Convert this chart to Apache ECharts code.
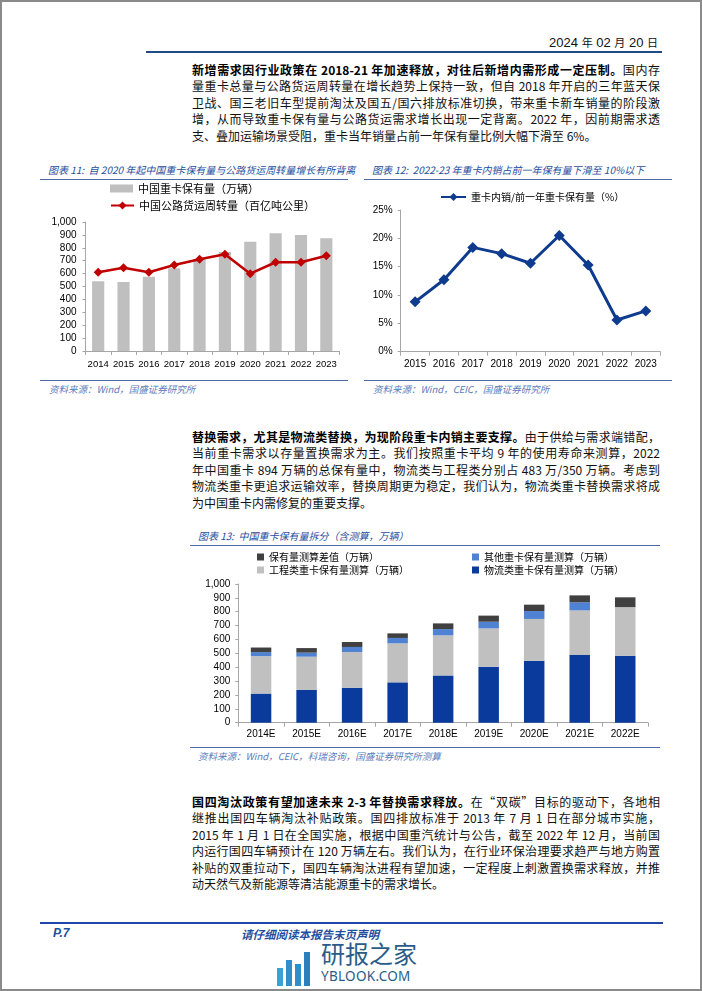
<!DOCTYPE html>
<html><head><meta charset="utf-8">
<script src="https://cdn.jsdelivr.net/npm/echarts@6/dist/echarts.min.js"></script>
<style>
html,body{margin:0;padding:0;background:#fff;}
#page{position:relative;width:702px;height:991px;overflow:hidden;font-family:"Noto Sans CJK SC","Noto Sans",sans-serif;color:#111;}
#frame{position:absolute;left:0;top:0;right:0;bottom:0;border:2px solid #8a8a8a;pointer-events:none;box-sizing:border-box;}
.abs{position:absolute;}
.para{position:absolute;left:192px;width:468px;font-size:12px;line-height:16.6px;}
.para div{text-align:justify;text-align-last:justify;}
.para div.last{text-align-last:left;}
.para b{font-weight:700;color:#000;}
.ctitle{position:absolute;font-size:10px;font-style:italic;color:#1f4e9c;white-space:nowrap;}
.cline{position:absolute;height:0;border-top:1.5px solid #4a6aa3;}
.csrc{position:absolute;font-size:9.5px;font-style:italic;color:#5a7cbc;white-space:nowrap;}
.chart{position:absolute;}
</style></head>
<body><div id="page">
<div class="abs" style="right:44px;top:34px;font-size:13px;font-family:'Liberation Sans',sans-serif;white-space:nowrap;">2024 <span style="font-family:'Noto Sans CJK SC';font-size:11px;">年</span> 02 <span style="font-family:'Noto Sans CJK SC';font-size:11px;">月</span> 20 <span style="font-family:'Noto Sans CJK SC';font-size:11px;">日</span></div>
<div class="abs" style="left:146px;top:51px;width:516px;height:2px;background:#1f4a85;"></div>

<div class="para" style="top:61.7px;">
<div><b>新增需求因行业政策在 2018-21 年加速释放，对往后新增内需形成一定压制。</b>国内存</div>
<div>量重卡总量与公路货运周转量在增长趋势上保持一致，但自 2018 年开启的三年蓝天保</div>
<div>卫战、国三老旧车型提前淘汰及国五/国六排放标准切换，带来重卡新车销量的阶段激</div>
<div>增，从而导致重卡保有量与公路货运需求增长出现一定背离。2022 年，因前期需求透</div>
<div class="last">支、叠加运输场景受阻，重卡当年销量占前一年保有量比例大幅下滑至 6%。</div>
</div>

<div class="ctitle" style="left:48px;top:162px;">图表 11:&nbsp; 自 2020 年起中国重卡保有量与公路货运周转量增长有所背离</div>
<div class="cline" style="left:40px;top:179px;width:308px;"></div>
<div class="ctitle" style="left:372px;top:162px;">图表 12:&nbsp; 2022-23 年重卡内销占前一年保有量下滑至 10%以下</div>
<div class="cline" style="left:364px;top:179px;width:308px;"></div>
<div id="c11" class="chart" style="left:40px;top:180px;width:310px;height:198px;"></div>
<div id="c12" class="chart" style="left:364px;top:180px;width:310px;height:198px;"></div>
<div class="cline" style="left:40px;top:380px;width:308px;"></div>
<div class="cline" style="left:364px;top:380px;width:308px;"></div>
<div class="csrc" style="left:49px;top:382px;">资料来源：Wind，国盛证券研究所</div>
<div class="csrc" style="left:373px;top:382px;">资料来源：Wind，CEIC，国盛证券研究所</div>

<div class="para" style="top:428.7px;">
<div><b>替换需求，尤其是物流类替换，为现阶段重卡内销主要支撑。</b>由于供给与需求端错配，</div>
<div>当前重卡需求以存量置换需求为主。我们按照重卡平均 9 年的使用寿命来测算，2022</div>
<div>年中国重卡 894 万辆的总保有量中，物流类与工程类分别占 483 万/350 万辆。考虑到</div>
<div>物流类重卡更追求运输效率，替换周期更为稳定，我们认为，物流类重卡替换需求将成</div>
<div class="last">为中国重卡内需修复的重要支撑。</div>
</div>

<div class="ctitle" style="left:198px;top:528px;">图表 13:&nbsp; 中国重卡保有量拆分（含测算，万辆）</div>
<div class="cline" style="left:190px;top:545px;width:470px;"></div>
<div id="c13" class="chart" style="left:190px;top:547px;width:472px;height:198px;"></div>
<div class="cline" style="left:190px;top:747px;width:470px;"></div>
<div class="csrc" style="left:198px;top:749px;">资料来源：Wind，CEIC，科瑞咨询，国盛证券研究所测算</div>

<div class="para" style="top:793.5px;">
<div><b>国四淘汰政策有望加速未来 2-3 年替换需求释放。</b>在“双碳”目标的驱动下，各地相</div>
<div>继推出国四车辆淘汰补贴政策。国四排放标准于 2013 年 7 月 1 日在部分城市实施，</div>
<div>2015 年 1 月 1 日在全国实施，根据中国重汽统计与公告，截至 2022 年 12 月，当前国</div>
<div>内运行国四车辆预计在 120 万辆左右。我们认为，在行业环保治理要求趋严与地方购置</div>
<div>补贴的双重拉动下，国四车辆淘汰进程有望加速，一定程度上刺激置换需求释放，并推</div>
<div class="last">动天然气及新能源等清洁能源重卡的需求增长。</div>
</div>

<div class="abs" style="left:40px;top:922px;width:623px;height:2px;background:#1f47a8;"></div>
<div class="abs" style="left:53px;top:926px;font-size:12px;font-weight:700;font-style:italic;color:#1f4fa0;font-family:'Liberation Sans',sans-serif;">P.7</div>
<div class="abs" style="left:241px;top:926px;font-size:11.5px;font-weight:700;font-style:italic;color:#1f4fa0;white-space:nowrap;">请仔细阅读本报告末页声明</div>
<div class="abs" style="left:277px;top:944px;width:40px;height:42px;">
  <div class="abs" style="left:0;top:24px;width:6px;height:18px;background:#3aa0d8;"></div>
  <div class="abs" style="left:9px;top:16px;width:6px;height:26px;background:#2f8fcc;"></div>
  <div class="abs" style="left:18px;top:20px;width:6px;height:22px;background:#2f8fcc;"></div>
  <div class="abs" style="left:27px;top:8px;width:6px;height:34px;background:#2a7fc0;"></div>
</div>
<div class="abs" style="left:321px;top:938px;font-size:24px;color:#2b5c88;white-space:nowrap;line-height:30px;">研报之家</div>
<div class="abs" style="left:321px;top:967px;font-size:13.5px;color:#2b5c88;white-space:nowrap;font-family:'Noto Sans',sans-serif;letter-spacing:0.3px;">YBLOOK.COM</div>
<div id="frame"></div>
</div>
<script>
// ---- data ----
const years11 = ['2014','2015','2016','2017','2018','2019','2020','2021','2022','2023'];
const truckStock = [540, 535, 576, 641, 712, 767, 847, 912, 899, 875];
const freightTurnover = [610, 646, 610, 667, 711, 750, 599, 688, 688, 739];
const years12 = ['2015','2016','2017','2018','2019','2020','2021','2022','2023'];
const salesRatio = [8.8, 12.7, 18.4, 17.3, 15.6, 20.5, 15.3, 5.6, 7.2];
const years13 = ['2014E','2015E','2016E','2017E','2018E','2019E','2020E','2021E','2022E'];
const logistics = [210, 236, 252, 291, 341, 404, 447, 488, 483];
const engineering = [270, 240, 258, 281, 289, 276, 301, 322, 350];
const others = [29, 29, 36, 39, 45, 48, 57, 58, 0];
const calcGap = [33, 33, 36, 33, 41, 44, 46, 50, 71];

const axisFont = {fontFamily:'Liberation Sans', fontSize:10, color:'#000'};
const legFont = {fontFamily:'Noto Sans CJK SC', fontSize:11, color:'#000'};
const axisCol = '#a6a6a6';
const comma = v => v.toLocaleString('en-US');

// ---- chart 11 ----
const c11 = echarts.init(document.getElementById('c11'), null, {renderer:'canvas'});
const n11a = '中国重卡保有量（万辆）', n11b = '中国公路货运周转量（百亿吨公里）';
c11.setOption({
  animation:false,
  legend:[
    {data:[n11a], left:70, top:3, padding:0, itemWidth:23, itemHeight:8, icon:'rect', textStyle:legFont},
    {data:[n11b], left:70, top:20, padding:0, itemWidth:23, itemHeight:10, textStyle:legFont}
  ],
  grid:{left:45.5, top:42, width:253.5, height:129},
  xAxis:{type:'category', data:years11, axisLine:{lineStyle:{color:axisCol}}, axisTick:{show:true, length:4, lineStyle:{color:axisCol}}, axisLabel:Object.assign({margin:8, interval:0}, axisFont, {fontSize:9.5})},
  yAxis:{type:'value', min:0, max:1000, interval:100, axisLine:{show:true, lineStyle:{color:axisCol}}, axisTick:{show:true, length:3, lineStyle:{color:axisCol}}, splitLine:{show:false}, axisLabel:Object.assign({margin:9, formatter:comma}, axisFont)},
  series:[
    {name:n11a, type:'bar', data:truckStock, barWidth:'48%', itemStyle:{color:'#bfbfbf'}},
    {name:n11b, type:'line', data:freightTurnover, symbol:'diamond', symbolSize:9, lineStyle:{color:'#c00000', width:2.5}, itemStyle:{color:'#c00000'}}
  ]
});

// ---- chart 12 ----
const c12 = echarts.init(document.getElementById('c12'));
const n12 = '重卡内销/前一年重卡保有量（%）';
c12.setOption({
  animation:false,
  legend:{data:[n12], left:76, top:12, padding:0, itemWidth:25, itemHeight:10, textStyle:Object.assign({}, legFont, {fontSize:10})},
  grid:{left:36.7, top:30, width:259.5, height:141.7},
  xAxis:{type:'category', data:years12, axisLine:{lineStyle:{color:axisCol}}, axisTick:{show:true, length:4, lineStyle:{color:axisCol}}, axisLabel:Object.assign({margin:8, interval:0}, axisFont)},
  yAxis:{type:'value', min:0, max:25, interval:5, axisLine:{show:true, lineStyle:{color:axisCol}}, axisTick:{show:true, length:3, lineStyle:{color:axisCol}}, splitLine:{show:false}, axisLabel:Object.assign({margin:8, formatter:'{value}%'}, axisFont)},
  series:[
    {name:n12, type:'line', data:salesRatio, symbol:'diamond', symbolSize:11, lineStyle:{color:'#0e3b8e', width:3}, itemStyle:{color:'#0e3b8e'}}
  ]
});

// ---- chart 13 ----
const c13 = echarts.init(document.getElementById('c13'));
const n13 = ['物流类重卡保有量测算（万辆）','工程类重卡保有量测算（万辆）','其他重卡保有量测算（万辆）','保有量测算差值（万辆）'];
const col13 = ['#0a3a9c','#c0c0c0','#4f82d2','#404040'];
const leg13 = Object.assign({}, legFont, {fontSize:10});
c13.setOption({
  animation:false,
  legend:[
    {data:[n13[3]], left:67, top:5, padding:0, itemWidth:7, itemHeight:7, icon:'rect', textStyle:leg13},
    {data:[n13[2]], left:282, top:5, padding:0, itemWidth:7, itemHeight:7, icon:'rect', textStyle:leg13},
    {data:[n13[1]], left:67, top:18, padding:0, itemWidth:7, itemHeight:7, icon:'rect', textStyle:leg13},
    {data:[n13[0]], left:282, top:18, padding:0, itemWidth:7, itemHeight:7, icon:'rect', textStyle:leg13}
  ],
  grid:{left:48.3, top:37, width:409.7, height:138.7},
  xAxis:{type:'category', data:years13, axisLine:{lineStyle:{color:axisCol}}, axisTick:{show:true, length:4, lineStyle:{color:axisCol}}, axisLabel:Object.assign({margin:7, interval:0}, axisFont)},
  yAxis:{type:'value', min:0, max:1000, interval:100, axisLine:{show:true, lineStyle:{color:axisCol}}, axisTick:{show:true, length:3, lineStyle:{color:axisCol}}, splitLine:{show:false}, axisLabel:Object.assign({margin:8, formatter:comma}, axisFont)},
  series:[logistics, engineering, others, calcGap].map((d,i)=>({
    name:n13[i], type:'bar', stack:'total', data:d, barWidth:'45%', itemStyle:{color:col13[i]}
  }))
});
</script>
</body></html>
